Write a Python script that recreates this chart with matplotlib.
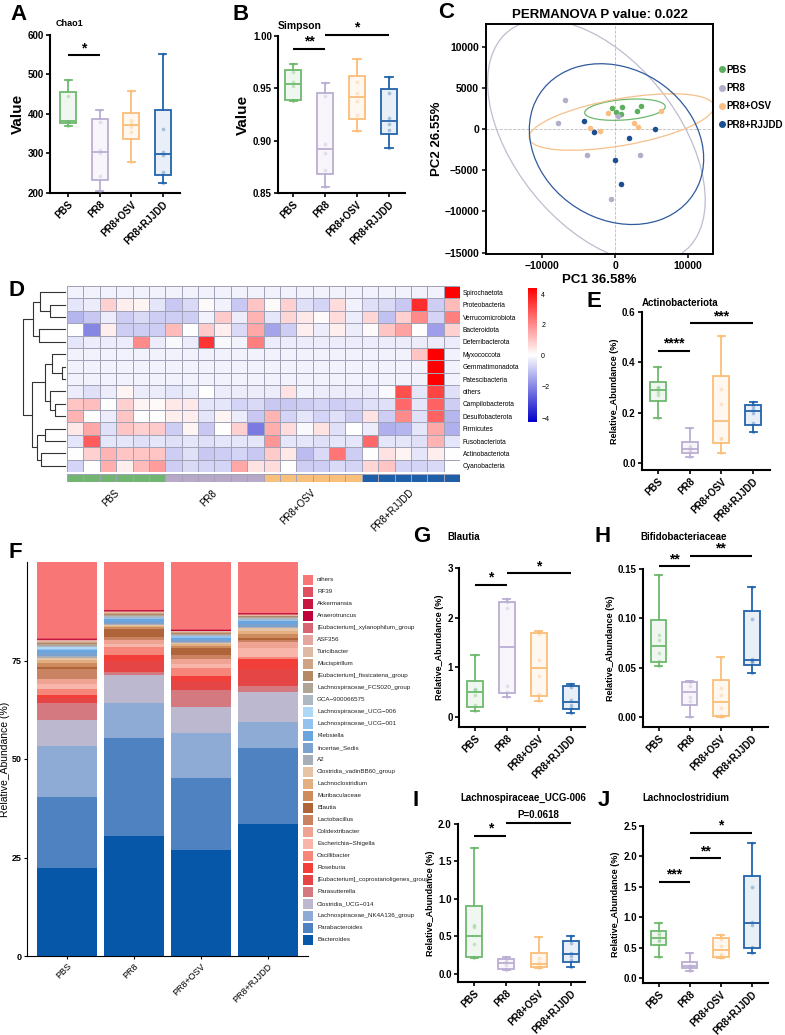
import numpy as np
import matplotlib
matplotlib.use('Agg')
import matplotlib.pyplot as plt
from matplotlib.colors import LinearSegmentedColormap, TwoSlopeNorm, ListedColormap, to_rgba
from matplotlib.patches import Ellipse, Rectangle
from matplotlib.lines import Line2D

plt.rcParams['font.family'] = ['Liberation Sans', 'DejaVu Sans']

W, H = 785, 1035

groups = ['PBS', 'PR8', 'PR8+OSV', 'PR8+RJJDD']
group_colors = ['#6DB96D', '#BBAED3', '#FBBE78', '#2263AC']

# ---- per-mouse values (6 per group)
chao1 = [[370, 380, 381, 383, 445, 485],
         [205, 242, 300, 310, 381, 410],
         [279, 355, 368, 376, 385, 459],
         [226, 253, 295, 303, 363, 551]]
simpson = [[0.938, 0.9392, 0.952, 0.956, 0.9657, 0.973],
           [0.8555, 0.8724, 0.888, 0.897, 0.9426, 0.9554],
           [0.9095, 0.9244, 0.938, 0.946, 0.9565, 0.9777],
           [0.8933, 0.9102, 0.916, 0.922, 0.9457, 0.9605]]
actino = [[0.178, 0.27, 0.283, 0.297, 0.30, 0.383],
          [0.023, 0.043, 0.05, 0.058, 0.067, 0.138],
          [0.038, 0.0953, 0.10, 0.236, 0.294, 0.505],
          [0.124, 0.16, 0.20, 0.214, 0.2253, 0.244]]
blautia = [[0.127, 0.234, 0.45, 0.54, 0.557, 1.242],
           [0.407, 0.498, 0.62, 2.2, 2.307, 2.378],
           [0.32, 0.463, 0.83, 1.15, 1.677, 1.73],
           [0.087, 0.184, 0.25, 0.34, 0.612, 0.675]]
bifido = [[0.0517, 0.057, 0.065, 0.078, 0.0831, 0.1439],
          [0.0, 0.0163, 0.02, 0.031, 0.0356, 0.0365],
          [0.0, 0.0017, 0.009, 0.022, 0.0298, 0.0605],
          [0.0449, 0.0553, 0.0565, 0.059, 0.0992, 0.132]]
ucg006 = [[0.209, 0.226, 0.40, 0.62, 0.651, 1.676],
          [0.053, 0.065, 0.12, 0.165, 0.184, 0.231],
          [0.085, 0.0903, 0.10, 0.166, 0.213, 0.498],
          [0.098, 0.186, 0.24, 0.285, 0.418, 0.507]]
lachno = [[0.34, 0.611, 0.62, 0.70, 0.734, 0.91],
          [0.12, 0.172, 0.19, 0.20, 0.205, 0.406],
          [0.324, 0.359, 0.40, 0.52, 0.634, 0.707],
          [0.406, 0.515, 0.88, 0.92, 1.499, 2.215]]

# significance bars: (group i, group j, y, label)
sig_chao1 = [(0, 1, 549, '*')]
sig_simpson = [(0, 1, 0.988, '**'), (1, 3, 1.001, '*')]
sig_actino = [(0, 1, 0.446, '****'), (1, 3, 0.555, '***')]
sig_blautia = [(0, 1, 2.66, '*'), (1, 3, 2.90, '*')]
sig_bifido = [(0, 1, 0.153, '**'), (1, 3, 0.1635, '**')]
sig_ucg006 = [(0, 1, 1.844, '*'), (1, 3, 2.02, 'P=0.0618')]
sig_lachno = [(0, 1, 1.584, '***'), (1, 2, 1.97, '**'), (1, 3, 2.39, '*')]

# ---- PCoA scores
pc1_pbs = [-450, 920, 140, 780, 3050, 3600]
pc2_pbs = [2500, 2700, 2100, 1800, 2180, 2780]
pc1_pr8 = [-6940, -7770, 320, -3880, 3420, -590]
pc2_pr8 = [3510, 730, 1570, -3110, -3110, -8510]
pc1_osv = [-1050, -3520, -2150, 2510, 3100, 6300]
pc2_osv = [1970, 120, -240, 760, 280, 2180]
pc1_rjjdd = [-4340, -2880, 1870, 5520, 40, 860]
pc2_rjjdd = [970, -400, -1130, 0, -3750, -6700]

# ---- phylum heatmap (row z-scores), 6 samples per group
phyla = ['Spirochaetota', 'Proteobacteria', 'Verrucomicrobiota', 'Bacteroidota',
         'Deferribacterota', 'Myxococcota', 'Gemmatimonadota', 'Patescibacteria',
         'others', 'Campilobacterota', 'Desulfobacterota', 'Firmicutes',
         'Fusobacteriota', 'Actinobacteriota', 'Cyanobacteria']
heat_values = [
    [-0.2] * 23 + [4.4],
    [-0.4, -0.3, 0.8, 0.3, 0.2, -0.4, -0.9, -0.6, 0.1, -0.2, -0.9, 1.0,
     0.1, 0.8, -0.5, -0.7, 0.6, -0.2, -0.5, -0.6, -0.9, 3.6, -0.8, 1.2],
    [-1.2, -0.9, -0.3, -0.8, -0.6, -0.8, -0.8, -0.8, -0.2, 0.9, -0.3, 1.3,
     -0.4, 0.7, 0.4, 0.1, 0.6, -0.3, 0.7, -1.0, 0.8, 2.0, -0.7, 2.2],
    [0.0, -2.0, 0.3, -0.8, -0.8, -0.8, 1.2, 0.0, 0.9, 0.3, -0.6, 1.5,
     -1.5, -0.8, 0.3, -0.3, 0.3, -0.3, 0.1, 1.0, 1.6, 0.0, -1.6, 0.8],
    [-0.4, -0.3, -0.3, -0.3, 2.0, -0.3, -0.1, -0.3, 3.5, -0.1, -0.2, 2.2,
     -0.3, -0.3, -0.3, -0.3, -0.3, -0.3, -0.3, -0.3, -0.3, -0.3, -0.3, -0.3],
    [-0.2] * 21 + [1.0, 4.4, -0.2],
    [-0.2] * 22 + [4.4, -0.2],
    [-0.2] * 22 + [4.4, -0.2],
    [-0.3, -0.5, -0.3, 0.2, -0.3, -0.3, -0.4, -0.3, 0.0, -0.3, -0.3, -0.3,
     -0.3, 0.5, -0.2, -0.3, -0.3, -0.3, -0.3, -0.1, 3.0, -0.4, 3.2, -0.5],
    [1.0, 1.1, 0.0, 0.8, 0.2, 0.1, 0.4, 0.4, -0.4, -0.4, -0.7, -0.6,
     -0.9, -0.9, -0.8, -0.7, -0.8, -0.7, -0.5, -0.5, 2.6, -0.4, 2.7, -0.8],
    [1.3, 0.0, -0.3, 1.0, 0.0, 0.0, 0.3, 0.3, -0.4, 0.2, -0.3, -0.9,
     1.3, -0.7, -0.4, -0.7, -0.5, -0.8, 0.5, -0.8, 2.0, -0.5, 2.7, -1.2],
    [0.4, 1.5, -0.5, 1.0, 0.8, 0.9, -0.8, 0.2, -0.9, 0.0, 0.8, -2.2,
     1.4, 0.6, -0.1, 0.5, -0.5, 0.0, -0.3, -1.3, -1.2, -0.4, 1.5, -1.3],
    [-0.4, 2.8, -0.4, -0.4, -0.5, -0.4, -0.5, -0.4, -0.5, -0.4, -0.4, -0.4,
     1.8, -0.4, -0.4, -0.5, -0.4, -0.4, 2.6, -0.4, -0.4, -0.5, 1.3, -0.4],
    [0.0, 0.8, 1.3, 1.0, 1.0, 1.0, -0.8, -0.5, -0.9, -0.8, -0.7, -0.9,
     0.9, 0.4, -1.1, -0.6, 2.4, -0.8, 0.0, 0.5, 0.2, -0.4, 0.3, 0.0],
    [-0.7, 0.0, 1.4, 0.3, 1.2, 1.7, -0.8, -0.6, -0.7, -0.7, 1.5, 0.5,
     0.6, 0.0, -0.8, -0.8, -0.6, -0.7, 0.7, 1.0, -0.7, -0.7, -0.6, 0.0],
]
sample_group = [0] * 6 + [1] * 6 + [2] * 6 + [3] * 6
# row clustering: (child a, child b, height); new clusters numbered from 15
row_merges = [(6, 7, 10), (5, 15, 40), (9, 10, 30), (8, 17, 45), (16, 18, 60),
              (11, 12, 60), (13, 14, 70), (20, 21, 83), (19, 22, 97),
              (1, 2, 45), (0, 24, 75), (3, 4, 77), (25, 26, 95), (27, 23, 125)]

# ---- genus composition (legend order, top of stack first)
taxa = ['others', 'RF39', 'Akkermansia', 'Anaerotruncus', '[Eubacterium]_xylanophilum_group',
        'ASF356', 'Turicibacter', 'Mucispirillum', '[Eubacterium]_fissicatena_group',
        'Lachnospiraceae_FCS020_group', 'GCA\u2212900066575', 'Lachnospiraceae_UCG\u2212006',
        'Lachnospiraceae_UCG\u2212001', 'Klebsiella', 'Incertae_Sedis', 'A2',
        'Clostridia_vadinBB60_group', 'Lachnoclostridium', 'Muribaculaceae', 'Blautia',
        'Lactobacillus', 'Colidextribacter', 'Escherichia\u2212Shigella', 'Oscillibacter',
        'Roseburia', '[Eubacterium]_coprostanoligenes_group', 'Parasutterella',
        'Clostridia_UCG\u2212014', 'Lachnospiraceae_NK4A136_group', 'Parabacteroides',
        'Bacteroides']
taxa_colors = ['#F87676', '#E0505F', '#C8173F', '#C0003A', '#D86672', '#E3A79F', '#DEBAA4',
               '#CFA386', '#B48966', '#B0A497', '#AEB8C2', '#AED6F5', '#94C2EE', '#6BA5DD',
               '#7BA2CF', '#A7AEB8', '#E6C3A4', '#E3AE80', '#CE8B5E', '#B0643A', '#C98262',
               '#EFA393', '#F7B6A9', '#F7867A', '#F23F3A', '#E54544', '#D4797F', '#BCB8D0',
               '#8EABD6', '#4F82C0', '#0757A8']
abund_pbs = [19.4, 0.1, 0.2, 0.1, 0.1, 0.1, 0.2, 0.3, 0.3, 0.4, 0.4, 0.4, 0.4, 0.8, 0.6, 0.6,
             0.6, 0.7, 1.0, 0.4, 2.7, 1.2, 1.2, 1.5, 0.8, 1.2, 4.4, 6.5, 13.0, 18.0, 22.4]
abund_pr8 = [12.2, 0.1, 0.1, 0.1, 0.1, 0.1, 0.3, 0.3, 0.2, 0.3, 0.3, 0.15, 0.15, 0.8, 0.6, 0.2,
             0.2, 0.4, 0.5, 1.9, 0.8, 0.9, 1.0, 1.9, 1.4, 3.0, 0.7, 7.0, 8.9, 24.9, 30.5]
abund_osv = [17.0, 0.2, 0.1, 0.1, 0.1, 0.1, 0.2, 0.2, 0.2, 0.25, 0.25, 0.2, 0.3, 0.7, 0.5, 0.2,
             0.3, 0.4, 0.6, 1.8, 0.9, 1.2, 1.2, 1.9, 1.4, 2.2, 4.2, 6.6, 11.4, 18.5, 26.8]
abund_rjjdd = [12.9, 0.1, 0.1, 0.2, 0.1, 0.1, 0.1, 0.2, 0.2, 0.3, 0.3, 0.15, 0.15, 0.8, 0.8, 0.3,
               0.7, 0.8, 1.0, 0.5, 0.5, 1.6, 2.2, 0.6, 2.5, 4.2, 1.5, 7.6, 6.8, 19.2, 33.5]


def px_axes(fig, left, top, right, bottom):
    return fig.add_axes([left / W, 1 - bottom / H, (right - left) / W, (bottom - top) / H])


def letter(fig, x, y, s):
    fig.text(x / W, 1 - y / H, s, fontsize=16, fontweight='bold', ha='left', va='center')


def box_panel(ax, samples, ylim, yticks, fmt, xlim, sigs, ylabel, ylabel_size):
    stats = []
    for vals in samples:
        v = np.asarray(vals, dtype=float)
        q1, med, q3 = np.percentile(v, [25, 50, 75], method='weibull')
        stats.append(dict(med=med, q1=q1, q3=q3, whislo=v.min(), whishi=v.max(), fliers=[]))
    bp = ax.bxp(stats, positions=range(4), widths=0.5, patch_artist=True,
                capwidths=0.22, showfliers=False)
    for i, c in enumerate(group_colors):
        bp['boxes'][i].set(facecolor=to_rgba(c, 0.1), edgecolor=c, linewidth=1.3)
        bp['medians'][i].set(color=c, linewidth=1.3)
        for k in (2 * i, 2 * i + 1):
            bp['whiskers'][k].set(color=c, linewidth=1.3)
            bp['caps'][k].set(color=c, linewidth=1.3)
        ax.scatter(np.full(len(samples[i]), i), samples[i], s=7, color=c, alpha=0.35,
                   lw=0, zorder=3)
    for i, j, y, lab in sigs:
        ax.plot([i, j], [y, y], color='black', lw=1.5, clip_on=False, solid_capstyle='butt')
        big = lab.startswith('*')
        ax.annotate(lab, xy=((i + j) / 2, y), xytext=(0, 0 if big else 1.5),
                    textcoords='offset points', ha='center', va='bottom',
                    fontsize=10 if big else 7, fontweight='bold', annotation_clip=False)
    ax.set_xlim(*xlim)
    ax.set_ylim(*ylim)
    ax.set_yticks(yticks)
    ax.set_yticklabels([fmt.format(t) for t in yticks])
    ax.set_xticks(range(4))
    ax.set_xticklabels(groups, rotation=45, ha='right', rotation_mode='anchor')
    for s in ('top', 'right'):
        ax.spines[s].set_visible(False)
    for s in ('left', 'bottom'):
        ax.spines[s].set_linewidth(1.5)
    ax.tick_params(width=1.2, length=3, labelsize=7, pad=1.5)
    for t in ax.get_xticklabels() + ax.get_yticklabels():
        t.set_fontweight('bold')
    ax.set_ylabel(ylabel, fontsize=ylabel_size, fontweight='bold', labelpad=2)


def conf_ellipse(ax, x, y, color):
    x = np.asarray(x, float)
    y = np.asarray(y, float)
    n = len(x)
    vals, vecs = np.linalg.eigh(np.cov(x, y))
    fq = (n - 1) / 2 * (0.05 ** (-2 / (n - 1)) - 1)
    r = np.sqrt(2 * fq)
    angle = np.degrees(np.arctan2(vecs[1, 1], vecs[0, 1]))
    ax.add_patch(Ellipse((x.mean(), y.mean()), 2 * r * np.sqrt(vals[1]),
                         2 * r * np.sqrt(vals[0]), angle=angle, fill=False,
                         edgecolor=color, lw=0.9))


def draw_dendrogram(ax, merges, n_leaves):
    pos = {i: i + 0.5 for i in range(n_leaves)}
    hgt = {i: 0.0 for i in range(n_leaves)}
    for k, (a, b, h) in enumerate(merges):
        ax.plot([hgt[a], h, h, hgt[b]], [pos[a], pos[a], pos[b], pos[b]],
                color='#333333', lw=0.8, clip_on=False)
        pos[n_leaves + k] = (pos[a] + pos[b]) / 2
        hgt[n_leaves + k] = h
    ax.set_xlim(max(hgt.values()), 0)
    ax.set_ylim(n_leaves, 0)
    ax.axis('off')


fig = plt.figure(figsize=(W / 100, H / 100), dpi=100)

# ---------------- A / B alpha diversity
axA = px_axes(fig, 50, 35, 180, 193)
box_panel(axA, chao1, (200, 600), [200, 300, 400, 500, 600], '{:.0f}', (-0.57, 3.54),
          sig_chao1, 'Value', 11)
axA.text(0.04, 1.07, 'Chao1', transform=axA.transAxes, fontsize=6.5,
         fontweight='bold', ha='left', va='center')
letter(fig, 10, 15, 'A')

axB = px_axes(fig, 278, 36, 405, 193)
box_panel(axB, simpson, (0.85, 1.00), [0.85, 0.90, 0.95, 1.00], '{:.2f}', (-0.47, 3.5),
          sig_simpson, 'Value', 11)
axB.text(0.0, 1.065, 'Simpson', transform=axB.transAxes, fontsize=7.5,
         fontweight='bold', ha='left', va='center')
letter(fig, 233, 15, 'B')

# ---------------- C PCoA
axC = px_axes(fig, 486, 24, 713, 254)
axC.axhline(0, color='#BBBBBB', ls='--', lw=0.6, zorder=0)
axC.axvline(0, color='#BBBBBB', ls='--', lw=0.6, zorder=0)
pcoa = [(pc1_pbs, pc2_pbs), (pc1_pr8, pc2_pr8), (pc1_osv, pc2_osv), (pc1_rjjdd, pc2_rjjdd)]
pt_colors = ['#5DAE5D', '#B3AFC8', '#F9BE83', '#1B4F91']
ell_colors = ['#6DB96D', '#BDBDCF', '#F6C08A', '#2F5A9C']
for (px, py), pc, ec in zip(pcoa, pt_colors, ell_colors):
    axC.scatter(px, py, s=16, color=pc, lw=0, zorder=3)
    conf_ellipse(axC, px, py, ec)
axC.set_xlim(-17700, 13400)
axC.set_ylim(-15170, 12740)
axC.set_xticks([-10000, 0, 10000])
axC.set_yticks([-15000, -10000, -5000, 0, 5000, 10000])
for s in axC.spines.values():
    s.set_linewidth(1.4)
axC.tick_params(width=1.1, length=3, labelsize=7.5, pad=2)
for t in axC.get_xticklabels() + axC.get_yticklabels():
    t.set_fontweight('bold')
axC.set_xlabel('PC1 36.58%', fontsize=9.5, fontweight='bold', labelpad=2)
axC.set_ylabel('PC2 26.55%', fontsize=9.5, fontweight='bold', labelpad=1)
axC.set_title('PERMANOVA P value: 0.022', fontsize=9.5, fontweight='bold', pad=4)
handles = [Line2D([], [], marker='o', ls='none', color=c, markersize=4) for c in pt_colors]
fig.legend(handles, groups, loc='upper left', bbox_to_anchor=(714 / W, 1 - 60 / H),
           frameon=False, prop={'weight': 'bold', 'size': 7},
           handlelength=0.6, handletextpad=0.2, labelspacing=0.85, borderpad=0)
letter(fig, 438, 12, 'C')

# ---------------- D heatmap
hm = np.array(heat_values)
cmap = LinearSegmentedColormap.from_list('bwr_ph', ['#0000C8', '#FFFFFF', '#FF0000'])
norm = TwoSlopeNorm(vmin=-4.25, vcenter=0, vmax=4.4)
axD = px_axes(fig, 67, 286, 460, 472)
mesh = axD.pcolormesh(hm, cmap=cmap, norm=norm, edgecolors='#A3A3B8', linewidth=0.5)
axD.set_ylim(len(phyla), 0)
axD.set_xticks([])
axD.set_yticks(np.arange(len(phyla)) + 0.5)
axD.set_yticklabels(phyla)
axD.yaxis.tick_right()
axD.tick_params(length=0, labelsize=4.8, pad=2)
for s in axD.spines.values():
    s.set_visible(False)

axAnno = px_axes(fig, 67, 474, 460, 482)
anno_cmap = ListedColormap(['#72B572', '#B8A9C9', '#F9C07C', '#1F5FA8'])
axAnno.pcolormesh(np.array([sample_group]), cmap=anno_cmap, vmin=-0.5, vmax=3.5,
                  edgecolors='#A3A3B8', linewidth=0.5)
axAnno.set_xlim(0, len(sample_group))
axAnno.set_ylim(1, 0)
axAnno.axis('off')
for g, name in enumerate(groups):
    cx = np.mean([i for i, s in enumerate(sample_group) if s == g]) + 0.5
    axAnno.text(cx + 0.3, 1.7, name, rotation=45, ha='right', va='top', fontsize=7)

axDen = px_axes(fig, 23, 286, 65, 472)
draw_dendrogram(axDen, row_merges, len(phyla))

cax = px_axes(fig, 528, 288, 537, 422)
cb = fig.colorbar(mesh, cax=cax, ticks=[-4, -2, 0, 2, 4])
cb.outline.set_visible(False)
cax.tick_params(length=0, labelsize=5, pad=3)
letter(fig, 8, 290, 'D')

# ---------------- E Actinobacteriota
axE = px_axes(fig, 642, 312, 770, 470)
box_panel(axE, actino, (-0.028, 0.6), [0.0, 0.2, 0.4, 0.6], '{:.1f}', (-0.5, 3.53),
          sig_actino, 'Relative_Abundance (%)', 6.5)
axE.text(0.0, 1.06, 'Actinobacteriota', transform=axE.transAxes, fontsize=7,
         fontweight='bold', ha='left', va='center')
letter(fig, 587, 302, 'E')

# ---------------- F stacked composition
axF = px_axes(fig, 27, 562, 308, 956)
bar_data = [abund_pbs, abund_pr8, abund_osv, abund_rjjdd]
bottoms = np.zeros(4)
for k in range(len(taxa) - 1, -1, -1):
    vals = np.array([b[k] for b in bar_data])
    axF.bar(range(4), vals, width=0.9, bottom=bottoms, color=taxa_colors[k], lw=0)
    bottoms += vals
axF.set_xlim(-0.6, 3.6)
axF.set_ylim(0, 100)
axF.set_yticks([0, 25, 50, 75])
axF.set_xticks(range(4))
axF.set_xticklabels(groups, rotation=45, ha='right', rotation_mode='anchor', fontsize=7)
for s in ('top', 'right'):
    axF.spines[s].set_visible(False)
axF.tick_params(length=2.5, width=0.8, labelsize=6.5, pad=1.5)
for t in axF.get_yticklabels():
    t.set_fontweight('bold')
axF.set_ylabel('Relative_Abundance (%)', fontsize=7.5, labelpad=1)

axLeg = px_axes(fig, 300, 573, 420, 946)
axLeg.set_xlim(0, 120)
axLeg.set_ylim(373, 0)
axLeg.axis('off')
for i, (name, c) in enumerate(zip(taxa, taxa_colors)):
    axLeg.add_patch(Rectangle((3, 1.5 + 12 * i), 10, 10, color=c, lw=0))
    axLeg.text(17, 6.5 + 12 * i, name, fontsize=4.5, va='center', ha='left', color='#222222')
letter(fig, 8, 553, 'F')

# ---------------- G-J genera
axG = px_axes(fig, 459, 568, 585, 727)
box_panel(axG, blautia, (-0.2, 3), [0, 1, 2, 3], '{:.0f}', (-0.5, 3.44),
          sig_blautia, 'Relative_Abundance (%)', 6.5)
fig.text(447 / W, 1 - 537 / H, 'Blautia', fontsize=7, fontweight='bold', va='center')
letter(fig, 413, 537, 'G')

axH = px_axes(fig, 643, 569, 768, 727)
box_panel(axH, bifido, (-0.0101, 0.15), [0.00, 0.05, 0.10, 0.15], '{:.2f}', (-0.5, 3.52),
          sig_bifido, 'Relative_Abundance (%)', 6.5)
fig.text(640 / W, 1 - 537 / H, 'Bifidobacteriaceae', fontsize=7, fontweight='bold',
         va='center')
letter(fig, 595, 537, 'H')

axI = px_axes(fig, 458, 824, 585, 982)
box_panel(axI, ucg006, (-0.107, 2.0), [0.0, 0.5, 1.0, 1.5, 2.0], '{:.1f}', (-0.5, 3.44),
          sig_ucg006, 'Relative_Abundance (%)', 6.5)
fig.text(523 / W, 1 - 798 / H, 'Lachnospiraceae_UCG-006', fontsize=7, fontweight='bold',
         va='center', ha='center')
letter(fig, 412, 800, 'I')

axJ = px_axes(fig, 643, 826, 768, 983)
box_panel(axJ, lachno, (-0.082, 2.5), [0.0, 0.5, 1.0, 1.5, 2.0, 2.5], '{:.1f}',
          (-0.5, 3.52), sig_lachno, 'Relative_Abundance (%)', 6.5)
fig.text(642 / W, 1 - 798 / H, 'Lachnoclostridium', fontsize=7, fontweight='bold',
         va='center')
letter(fig, 598, 800, 'J')

fig.savefig('out.png', dpi=100)
